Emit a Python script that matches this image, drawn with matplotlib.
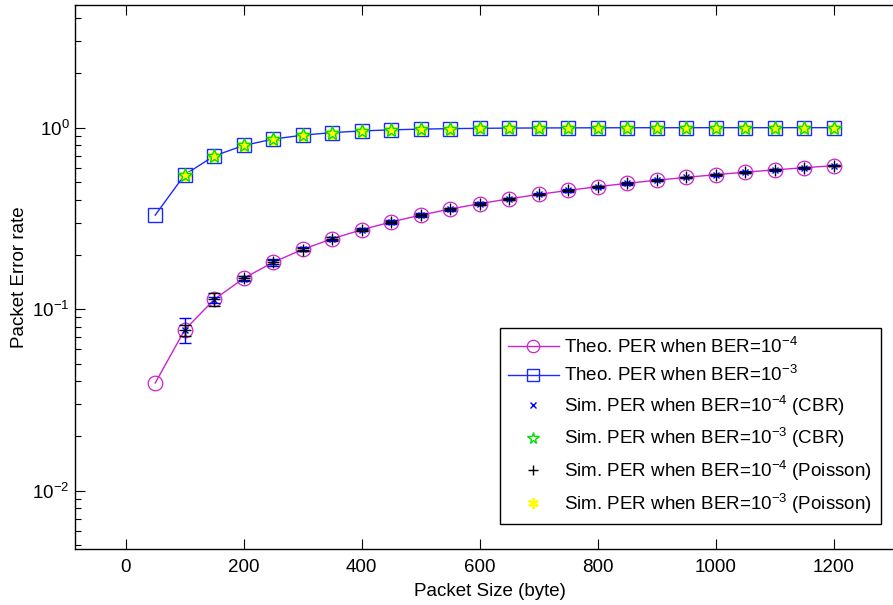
import matplotlib
matplotlib.use('Agg')
import matplotlib.pyplot as plt

plt.rcParams['font.family'] = ['Liberation Sans', 'DejaVu Sans']
plt.rcParams['mathtext.default'] = 'regular'

# packet sizes (byte)
size_theo = [50, 100, 150, 200, 250, 300, 350, 400, 450, 500, 550, 600,
             650, 700, 750, 800, 850, 900, 950, 1000, 1050, 1100, 1150, 1200]
size_sim = size_theo[1:]

# theoretical PER
theo_ber4 = [0.0392, 0.0769, 0.1131, 0.1479, 0.1813, 0.2134, 0.2442, 0.2739,
             0.3023, 0.3297, 0.3560, 0.3812, 0.4055, 0.4288, 0.4512, 0.4727,
             0.4934, 0.5132, 0.5323, 0.5507, 0.5683, 0.5852, 0.6015, 0.6171]
theo_ber3 = [0.3297, 0.5507, 0.6988, 0.7981, 0.8647, 0.9093, 0.9392, 0.9592,
             0.9727, 0.9817, 0.9877, 0.9918, 0.9945, 0.9963, 0.9975, 0.9983,
             0.9989, 0.9993, 0.9995, 0.9997, 0.9998, 0.9998, 0.9999, 0.9999]

# simulated PER, CBR traffic
cbr_ber4 = [0.0772, 0.1128, 0.1475, 0.1808, 0.2140, 0.2438, 0.2745, 0.3020,
            0.3300, 0.3555, 0.3815, 0.4052, 0.4290, 0.4508, 0.4730, 0.4930,
            0.5135, 0.5320, 0.5510, 0.5680, 0.5855, 0.6012, 0.6170]
cbr_ber4_err = [0.0125, 0.0045, 0.005, 0.007, 0.006, 0.007, 0.006, 0.008,
                0.007, 0.006, 0.008, 0.007, 0.006, 0.007, 0.006, 0.007,
                0.008, 0.006, 0.007, 0.006, 0.007, 0.006, 0.005]
cbr_ber3 = [0.5510, 0.6985, 0.7985, 0.8645, 0.9095, 0.9390, 0.9594, 0.9725,
            0.9818, 0.9876, 0.9919, 0.9944, 0.9963, 0.9976, 0.9983, 0.9989,
            0.9993, 0.9995, 0.9997, 0.9998, 0.9998, 0.9999, 0.9999]
cbr_ber3_err = [0.008, 0.007, 0.006, 0.005, 0.004, 0.004, 0.003, 0.003,
                0.002, 0.002, 0.002, 0.001, 0.001, 0.001, 0.001, 0.001,
                0.001, 0.001, 0.001, 0.001, 0.001, 0.001, 0.001]

# simulated PER, Poisson traffic
poi_ber4 = [0.0765, 0.1133, 0.1480, 0.1815, 0.2130, 0.2445, 0.2735, 0.3025,
            0.3295, 0.3562, 0.3810, 0.4058, 0.4285, 0.4515, 0.4725, 0.4938,
            0.5130, 0.5325, 0.5505, 0.5685, 0.5850, 0.6018, 0.6172]
poi_ber4_err = [0.005, 0.009, 0.004, 0.005, 0.004, 0.005, 0.004, 0.004,
                0.004, 0.004, 0.004, 0.004, 0.004, 0.004, 0.004, 0.004,
                0.004, 0.004, 0.004, 0.004, 0.004, 0.004, 0.004]
poi_ber3 = [0.5505, 0.6990, 0.7978, 0.8650, 0.9090, 0.9394, 0.9590, 0.9728,
            0.9816, 0.9878, 0.9917, 0.9945, 0.9962, 0.9975, 0.9984, 0.9988,
            0.9993, 0.9995, 0.9997, 0.9998, 0.9998, 0.9999, 0.9999]
poi_ber3_err = [0.007, 0.006, 0.005, 0.004, 0.004, 0.003, 0.003, 0.002,
                0.002, 0.002, 0.001, 0.001, 0.001, 0.001, 0.001, 0.001,
                0.001, 0.001, 0.001, 0.001, 0.001, 0.001, 0.001]

fig = plt.figure(figsize=(8.93, 6.05), dpi=100)
# axes run a little past the right edge of the figure, like the original crop
ax = fig.add_axes([0.084, 0.0926, 0.930, 0.8991])

magenta = '#cc22cc'
blue = '#1a2aff'
asterisk = (6, 2, 0)

h1, = ax.plot(size_theo, theo_ber4, '-o', color=magenta, mfc='none', mec=magenta,
              ms=10.5, lw=1, mew=0.9)
h2, = ax.plot(size_theo, theo_ber3, '-s', color=blue, mfc='none', mec=blue,
              ms=10, lw=1, mew=1.0)

c3 = ax.errorbar(size_sim, cbr_ber4, yerr=cbr_ber4_err, fmt='x', color='blue',
                 ms=5, mew=1.0, capsize=4.5, elinewidth=1, capthick=1)
c4 = ax.errorbar(size_sim, cbr_ber3, yerr=cbr_ber3_err, fmt='*', color='#00dd00',
                 mfc='none', ms=10, mew=1.0, capsize=4.5, elinewidth=1, capthick=1)
c5 = ax.errorbar(size_sim, poi_ber4, yerr=poi_ber4_err, fmt='+', color='black',
                 ms=9, mew=1.0, capsize=4.5, elinewidth=1, capthick=1)
c6 = ax.errorbar(size_sim, poi_ber3, yerr=poi_ber3_err, fmt='none', ecolor='#eeee00',
                 capsize=4.5, elinewidth=1, capthick=1)
h6, = ax.plot(size_sim, poi_ber3, ls='none', marker=asterisk, color='#ffff00',
              mec='#ffff00', ms=9, mew=1.6)

ax.set_yscale('log')
ax.set_xlim(-86, 1322)
ax.set_ylim(0.00477, 4.74)
ax.set_xticks([0, 200, 400, 600, 800, 1000, 1200])

ax.tick_params(which='both', direction='in', top=True, right=True, labelsize=13.5)
ax.tick_params(which='major', length=7, width=0.8)
ax.tick_params(which='minor', length=4, width=0.8)
ax.tick_params(axis='x', pad=7)
ax.tick_params(axis='y', pad=4)
for s in ax.spines.values():
    s.set_linewidth(1.0)
    s.set_color('black')

ax.set_xlabel('Packet Size (byte)', fontsize=13.5, labelpad=5)
ax.set_ylabel('Packet Error rate', fontsize=13.5, labelpad=3)

labels = ['Theo. PER when BER=10$^{-4}$',
          'Theo. PER when BER=10$^{-3}$',
          'Sim. PER when BER=10$^{-4}$ (CBR)',
          'Sim. PER when BER=10$^{-3}$ (CBR)',
          'Sim. PER when BER=10$^{-4}$ (Poisson)',
          'Sim. PER when BER=10$^{-3}$ (Poisson)']
leg = ax.legend([h1, h2, c3[0], c4[0], c5[0], h6], labels,
                loc='lower right', bbox_to_anchor=(0.970, 0.046),
                fontsize=13.5, fancybox=False, edgecolor='black', framealpha=1,
                handlelength=2.7, handletextpad=0.3, labelspacing=0.45,
                borderpad=0.45, borderaxespad=0, markerscale=0.85)
leg.get_frame().set_linewidth(1.0)

fig.savefig('out.png', dpi=100)
